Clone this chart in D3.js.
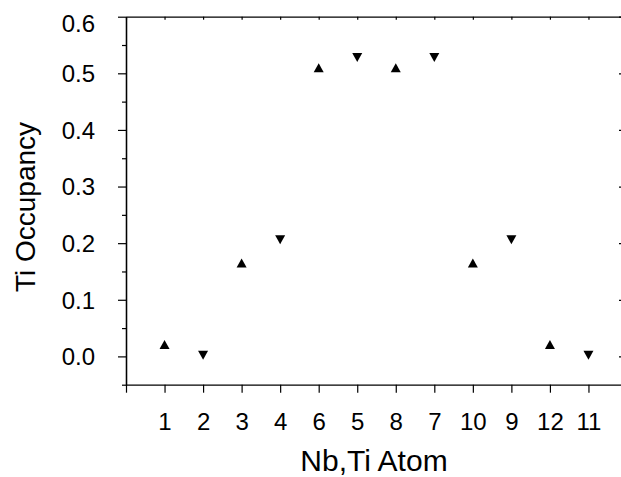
<!DOCTYPE html>
<html><head><meta charset="utf-8">
<script src="https://cdn.jsdelivr.net/npm/d3@7/dist/d3.min.js"></script>
<style>
body{margin:0;background:#fff}
text{font-family:"Liberation Sans",Arial,Helvetica,sans-serif;fill:#000}
</style>
</head><body>
<svg id="c" width="621" height="477"></svg>
<script>
// ---- data ----
const atomLabels = ["1","2","3","4","6","5","8","7","10","9","12","11"];
const occupancy  = [0.021,0.002,0.165,0.206,0.510,0.528,0.510,0.528,0.165,0.206,0.021,0.002];
const markerDir  = ["up","down","up","down","up","down","up","down","up","down","up","down"];
const yMajorTicks = [0.0,0.1,0.2,0.3,0.4,0.5,0.6];
const yMinorTicks = [-0.05,0.05,0.15,0.25,0.35,0.45,0.55];
const xTitle = "Nb,Ti Atom";
const yTitle = "Ti Occupancy";

// ---- layout ----
const L = 126, R = 627, T = 16.7, B = 384.7;
const svg = d3.select("#c");
const x = d3.scaleLinear().domain([0, 13]).range([L, R]);
const y = d3.scaleLinear().domain([-0.05, 0.6]).range([B, T]);
const xTickVals = d3.range(0, atomLabels.length + 1);

function styleAxis(g){
  g.selectAll("path.domain").attr("stroke","#000").attr("stroke-width",1.3);
  g.selectAll(".tick line").attr("stroke","#000").attr("stroke-width",1.2);
}

// left axis minor
svg.append("g").attr("transform",`translate(${L},0)`)
  .call(d3.axisLeft(y).tickValues(yMinorTicks).tickSize(4).tickSizeOuter(0).tickFormat(""))
  .call(styleAxis);
// left axis major
const gl = svg.append("g").attr("transform",`translate(${L},0)`)
  .call(d3.axisLeft(y).tickValues(yMajorTicks).tickSize(8).tickSizeOuter(0).tickPadding(23)
        .tickFormat(d3.format(".1f")))
  .call(styleAxis);
gl.selectAll(".tick text").attr("font-size",24).attr("font-family",null)
  .attr("dy", d => d === 0.6 ? "0.6em" : "0.35em");

// right axis (inward)
svg.append("g").attr("transform",`translate(${R},0)`)
  .call(d3.axisRight(y).tickValues(yMajorTicks).tickSize(-8).tickSizeOuter(0).tickFormat(""))
  .call(styleAxis);

// bottom axis
const gb = svg.append("g").attr("transform",`translate(0,${B})`)
  .call(d3.axisBottom(x).tickValues(xTickVals).tickSize(8).tickSizeOuter(0).tickPadding(20)
        .tickFormat(d => d >= 1 ? atomLabels[d-1] : ""))
  .call(styleAxis);
gb.selectAll(".tick text").attr("font-size",24).attr("font-family",null);

// top axis (inward small)
svg.append("g").attr("transform",`translate(0,${T})`)
  .call(d3.axisTop(x).tickValues(xTickVals).tickSize(-3).tickSizeOuter(0).tickFormat(""))
  .call(styleAxis);

// markers
const hw = 5, hh = 4.5;
const tri = dir => dir === "up"
  ? `M0,${-hh}L${hw},${hh}L${-hw},${hh}Z`
  : `M0,${hh}L${hw},${-hh}L${-hw},${-hh}Z`;
svg.append("g").selectAll("path")
  .data(occupancy.map((v,i)=>({i, v, dir: markerDir[i]})))
  .join("path")
  .attr("transform", d => `translate(${x(d.i+1)},${y(d.v)})`)
  .attr("d", d => tri(d.dir))
  .attr("fill","#000");

// titles
svg.append("text").attr("x",374).attr("y",470.5).attr("text-anchor","middle")
  .attr("font-size",30).text(xTitle);
svg.append("text").attr("transform","translate(35,207) rotate(-90)")
  .attr("text-anchor","middle").attr("font-size",28).text(yTitle);
</script>
</body></html>
